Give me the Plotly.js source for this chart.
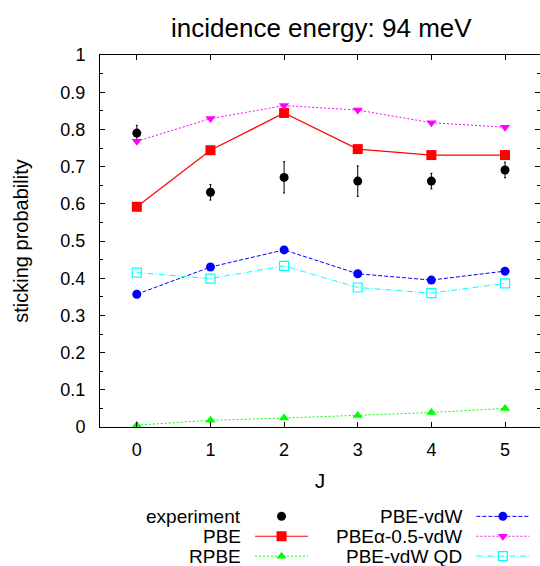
<!DOCTYPE html>
<html>
<head>
<meta charset="utf-8">
<script src="https://cdn.plot.ly/plotly-3.0.1.min.js"></script>
<style>html,body{margin:0;padding:0;background:#fff;}</style>
</head>
<body>
<div id="chart" style="width:540px;height:566px;"></div>
<script>
const J = [0, 1, 2, 3, 4, 5];
const experiment = [0.79, 0.631, 0.671, 0.661, 0.661, 0.691];
const experimentErr = [0.021, 0.021, 0.042, 0.041, 0.021, 0.021];
const PBE = [0.592, 0.744, 0.844, 0.747, 0.731, 0.731];
const RPBE = [0.005, 0.018, 0.024, 0.031, 0.039, 0.050];
const PBEvdW = [0.357, 0.430, 0.476, 0.412, 0.395, 0.419];
const PBEalpha = [0.768, 0.829, 0.864, 0.852, 0.818, 0.806];
const PBEvdWQD = [0.415, 0.399, 0.433, 0.375, 0.360, 0.386];
const seriesNames = ['experiment', 'PBE', 'RPBE', 'PBE-vdW', 'PBEα-0.5-vdW', 'PBE-vdW QD'];

const traces = [
  {x: J, y: experiment, name: '', legend: 'legend', mode: 'markers', type: 'scatter',
   marker: {color: '#000000', size: 9, symbol: 'circle'},
   error_y: {type: 'data', array: experimentErr, visible: true, color: '#000000', thickness: 1, width: 1}},
  {x: J, y: PBE, name: '', legend: 'legend', mode: 'lines+markers', type: 'scatter',
   line: {color: '#ff0000', width: 1.2},
   marker: {color: '#ff0000', size: 10, symbol: 'square'}},
  {x: J, y: RPBE, name: '', legend: 'legend', mode: 'lines+markers', type: 'scatter',
   line: {color: '#00ff00', width: 1, dash: '2px,2px'},
   marker: {color: '#00ff00', size: 9, symbol: 'triangle-up'}},
  {x: J, y: PBEvdW, name: '', legend: 'legend2', mode: 'lines+markers', type: 'scatter',
   line: {color: '#0000ff', width: 1, dash: '4px,2px'},
   marker: {color: '#0000ff', size: 9, symbol: 'circle'}},
  {x: J, y: PBEalpha, name: '', legend: 'legend2', mode: 'lines+markers', type: 'scatter',
   line: {color: '#ff00ff', width: 1, dash: '2px,2px'},
   marker: {color: '#ff00ff', size: 9, symbol: 'triangle-down'}},
  {x: J, y: PBEvdWQD, name: '', legend: 'legend2', mode: 'lines+markers', type: 'scatter',
   line: {color: '#00ffff', width: 1, dash: '6px,2px,1px,2px'},
   marker: {color: '#00ffff', size: 9, symbol: 'square-open', line: {width: 1.2, color: '#00ffff'}}}
];

const fontFam = 'Liberation Sans, Arial, Helvetica, sans-serif';
const legendRowsY = [-0.241, -0.295, -0.349];
const annotations = seriesNames.map((n, i) => ({
  text: n, xref: 'paper', yref: 'paper',
  x: i < 3 ? 0.325 : 0.827, y: legendRowsY[i % 3],
  xanchor: 'right', yanchor: 'middle', showarrow: false,
  font: {size: 19, family: fontFam, color: '#000'}
}));

const legendCommon = {orientation: 'v', yanchor: 'top', xanchor: 'left', y: -0.2,
  font: {size: 13, family: fontFam}, itemwidth: 53, tracegroupgap: 0,
  bgcolor: 'rgba(0,0,0,0)', borderwidth: 0, traceorder: 'normal'};

const layout = {
  width: 540, height: 566,
  margin: {l: 100, r: 0, t: 55, b: 139, autoexpand: false},
  paper_bgcolor: '#ffffff', plot_bgcolor: '#ffffff',
  font: {family: fontFam, color: '#000000', size: 18},
  title: {text: 'incidence energy: 94 meV', x: 0.595, xanchor: 'center', y: 0.9505, yanchor: 'middle',
          font: {size: 26, family: fontFam, color: '#000'}},
  showlegend: true,
  legend: Object.assign({}, legendCommon, {x: 0.341}),
  legend2: Object.assign({}, legendCommon, {x: 0.844}),
  annotations: annotations,
  xaxis: {range: [-0.5, 5.475], tickvals: J, ticktext: J.map(String),
          ticks: 'inside', ticklen: 5, tickcolor: '#000', showline: true, linecolor: '#000', linewidth: 1,
          mirror: 'ticks', showgrid: false, zeroline: false, ticklabelstandoff: 6,
          tickfont: {size: 18}, title: {text: 'J', font: {size: 21}, standoff: 14}},
  yaxis: {range: [0, 1], dtick: 0.1, tick0: 0, tickformat: '.1~f',
          ticks: 'inside', ticklen: 5, tickcolor: '#000', showline: true, linecolor: '#000', linewidth: 1,
          mirror: 'ticks', showgrid: false, zeroline: false, ticklabelstandoff: 10,
          minor: {dtick: 0.05, ticks: 'inside', ticklen: 3, tickcolor: '#000', showgrid: false},
          tickfont: {size: 18}, title: {text: 'sticking probability', font: {size: 20}, standoff: 26}}
};

Plotly.newPlot('chart', traces, layout, {displayModeBar: false, staticPlot: true});
</script>
</body>
</html>
